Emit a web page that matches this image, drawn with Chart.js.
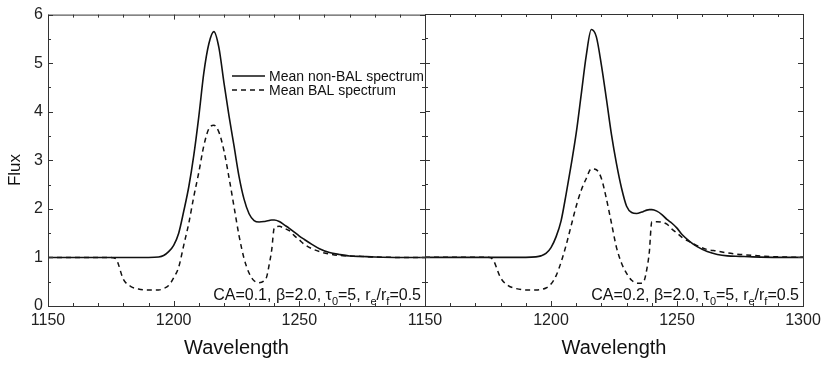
<!DOCTYPE html>
<html>
<head>
<meta charset="utf-8">
<script src="https://cdn.jsdelivr.net/npm/chart.js@4.4.0/dist/chart.umd.min.js"></script>
<style>
  body { margin: 0; background: #fff; }
  #wrap { position: relative; width: 830px; height: 367px; }
  .panel { position: absolute; top: 0; height: 367px; }
  #leftBox { left: 0; width: 440px; }
  #rightBox { left: 380px; width: 450px; }
</style>
</head>
<body>
<div id="wrap">
  <div class="panel" id="leftBox"><canvas id="chartLeft"></canvas></div>
  <div class="panel" id="rightBox"><canvas id="chartRight"></canvas></div>
</div>
<script>
// --- data ---
const wavelengths = [1150, 1170, 1175, 1177, 1180, 1183, 1186, 1190, 1194, 1196, 1198, 1200, 1202, 1204,
  1206, 1208, 1210, 1212, 1214, 1216, 1218, 1220, 1222, 1224, 1226, 1228, 1230, 1232, 1234, 1236, 1237,
  1238, 1239, 1240, 1242, 1244, 1246, 1248, 1250, 1252, 1255, 1258, 1262, 1266, 1270, 1275, 1280, 1290, 1300];

// CA = 0.1 panel
const nonBalCA01 = [1, 1, 1, 1, 1, 1, 1, 1, 1.01, 1.04, 1.12, 1.25, 1.5, 1.95,
  2.45, 3.1, 3.9, 4.8, 5.4, 5.65, 5.32, 4.6, 3.92, 3.3, 2.67, 2.2, 1.9, 1.76, 1.73, 1.74, 1.75,
  1.76, 1.77, 1.77, 1.74, 1.67, 1.6, 1.52, 1.44, 1.37, 1.27, 1.18, 1.1, 1.06, 1.03, 1.02, 1.01, 1, 1];
const balCA01 = [1, 1, 1, 0.97, 0.55, 0.4, 0.35, 0.33, 0.33, 0.36, 0.42, 0.58, 0.8, 1.25,
  1.7, 2.25, 2.75, 3.3, 3.65, 3.72, 3.58, 3.2, 2.65, 2.05, 1.45, 0.98, 0.68, 0.52, 0.48, 0.52, 0.6,
  0.85, 1.15, 1.6, 1.64, 1.6, 1.55, 1.45, 1.36, 1.27, 1.18, 1.12, 1.07, 1.04, 1.03, 1.02, 1.01, 1, 1];

// CA = 0.2 panel
const nonBalCA02 = [1, 1, 1, 1, 1, 1, 1, 1, 1.01, 1.03, 1.08, 1.2, 1.42, 1.75,
  2.3, 2.9, 3.55, 4.35, 5.15, 5.68, 5.53, 4.95, 4.25, 3.52, 2.92, 2.42, 2.05, 1.92, 1.9, 1.93, 1.95,
  1.97, 1.98, 1.98, 1.95, 1.88, 1.78, 1.7, 1.6, 1.47, 1.33, 1.22, 1.12, 1.06, 1.03, 1.02, 1.01, 1, 1];
const balCA02 = [1, 1, 1, 0.95, 0.58, 0.42, 0.36, 0.33, 0.33, 0.34, 0.37, 0.45, 0.62, 0.9,
  1.25, 1.65, 2.05, 2.38, 2.62, 2.82, 2.8, 2.62, 2.2, 1.7, 1.2, 0.88, 0.67, 0.53, 0.47, 0.47, 0.52,
  0.75, 1.1, 1.73, 1.73, 1.72, 1.68, 1.58, 1.5, 1.41, 1.32, 1.24, 1.16, 1.13, 1.09, 1.06, 1.04, 1.01, 1];

const xMin = 1150, xMax = 1300, xMajor = 50, xMinor = 10;
const yMin = 0, yMax = 6, yMajor = 1, yMinor = 0.5;
const legendLabels = ['Mean non-BAL spectrum', 'Mean BAL spectrum'];

const FONT = '"Liberation Sans", Arial, Helvetica, sans-serif';
Chart.defaults.font.family = FONT;
Chart.defaults.color = '#222';

function toPoints(ys) {
  return wavelengths.map((w, i) => ({ x: w, y: ys[i] }));
}

// --- frame, inward ticks, legend and panel label ---
const panelDecor = {
  id: 'panelDecor',
  afterDraw(chart) {
    const opts = chart.options.plugins.panelDecor;
    const { ctx, chartArea: { left, right, top, bottom }, scales: { x, y } } = chart;
    ctx.save();
    ctx.lineWidth = 1;
    ctx.strokeStyle = '#333';
    ctx.strokeRect(left + 0.5, top + 0.5, right - left, bottom - top);

    ctx.beginPath();
    for (let v = xMin; v <= xMax + 0.001; v += xMinor) {
      const px = Math.round(x.getPixelForValue(v)) + 0.5;
      const len = (v % xMajor === 0) ? 5 : 3;
      ctx.moveTo(px, bottom); ctx.lineTo(px, bottom - len);
      ctx.moveTo(px, top); ctx.lineTo(px, top + len);
    }
    for (let v = yMin; v <= yMax + 0.001; v += yMinor) {
      const py = Math.round(y.getPixelForValue(v)) + 0.5;
      const len = (v % yMajor === 0) ? 5 : 3;
      ctx.moveTo(left, py); ctx.lineTo(left + len, py);
      ctx.moveTo(right, py); ctx.lineTo(right - len, py);
    }
    ctx.stroke();

    // legend
    if (opts.legend) {
      ctx.strokeStyle = '#111';
      ctx.lineWidth = 1.5;
      ctx.font = '14px ' + FONT;
      ctx.fillStyle = '#111';
      ctx.textBaseline = 'middle';
      ctx.textAlign = 'left';
      [[76, []], [90, [5, 4]]].forEach(([ly, dash], i) => {
        ctx.setLineDash(dash);
        ctx.beginPath();
        ctx.moveTo(232, ly); ctx.lineTo(265, ly);
        ctx.stroke();
        ctx.setLineDash([]);
        ctx.fillText(legendLabels[i], 269, ly + 1);
      });
    }

    // y title
    if (opts.yTitle) {
      ctx.save();
      ctx.font = '17px ' + FONT;
      ctx.fillStyle = '#111';
      ctx.textAlign = 'center';
      ctx.textBaseline = 'middle';
      ctx.translate(15, 170);
      ctx.rotate(-Math.PI / 2);
      ctx.fillText('Flux', 0, 0);
      ctx.restore();
    }

    // parameter label with subscripts
    const parts = [
      ['CA=' + opts.ca + ', β=2.0, τ', false], ['0', true], ['=5, r', false],
      ['e', true], ['/r', false], ['f', true], ['=0.5', false]
    ];
    const big = '16px ' + FONT, small = '11px ' + FONT;
    let total = 0;
    parts.forEach(([t, sub]) => { ctx.font = sub ? small : big; total += ctx.measureText(t).width; });
    let cx = right - 4 - total;
    const base = bottom - 6;
    ctx.fillStyle = '#111';
    ctx.textAlign = 'left';
    ctx.textBaseline = 'alphabetic';
    parts.forEach(([t, sub]) => {
      ctx.font = sub ? small : big;
      ctx.fillText(t, cx, sub ? base + 5 : base);
      cx += ctx.measureText(t).width;
    });
    ctx.restore();
  }
};

function createPanel(canvasId, nonBal, bal, cfg) {
  const ctx = document.getElementById(canvasId).getContext('2d');
  return new Chart(ctx, {
    type: 'line',
    data: {
      datasets: [
        { label: legendLabels[0], data: toPoints(nonBal), borderColor: '#111', borderWidth: 1.6,
          pointRadius: 0, cubicInterpolationMode: 'monotone', fill: false },
        { label: legendLabels[1], data: toPoints(bal), borderColor: '#111', borderWidth: 1.5,
          borderDash: [5, 4], pointRadius: 0, cubicInterpolationMode: 'monotone', fill: false }
      ]
    },
    options: {
      responsive: true,
      maintainAspectRatio: false,
      animation: false,
      layout: { padding: { top: 14, right: cfg.padRight, left: 0, bottom: 0 } },
      plugins: {
        legend: { display: false },
        tooltip: { enabled: false },
        panelDecor: { legend: cfg.legend, yTitle: cfg.yTitle, ca: cfg.ca }
      },
      scales: {
        x: {
          type: 'linear', min: xMin, max: xMax,
          grid: { display: false, drawTicks: false },
          border: { display: false },
          ticks: {
            stepSize: xMajor, padding: 5, maxRotation: 0, autoSkip: false,
            font: { size: 16 },
            callback: v => (cfg.hideLast && v === xMax) ? '' : String(v)
          },
          title: { display: true, text: 'Wavelength', font: { size: 20 }, padding: { bottom: 7, top: 0 }, color: '#111' },
          afterFit: s => { s.height = 61; }
        },
        y: {
          min: yMin, max: yMax,
          grid: { display: false, drawTicks: false },
          border: { display: false },
          ticks: {
            display: cfg.yLabels, stepSize: yMajor, padding: 5, font: { size: 16 }
          },
          afterFit: s => { s.width = cfg.yWidth; }
        }
      }
    },
    plugins: [panelDecor]
  });
}

createPanel('chartLeft', nonBalCA01, balCA01,
  { padRight: 15, legend: true, yTitle: true, ca: '0.1', hideLast: true, yLabels: true, yWidth: 48 });
createPanel('chartRight', nonBalCA02, balCA02,
  { padRight: 27, legend: false, yTitle: false, ca: '0.2', hideLast: false, yLabels: false, yWidth: 45 });
</script>
</body>
</html>
